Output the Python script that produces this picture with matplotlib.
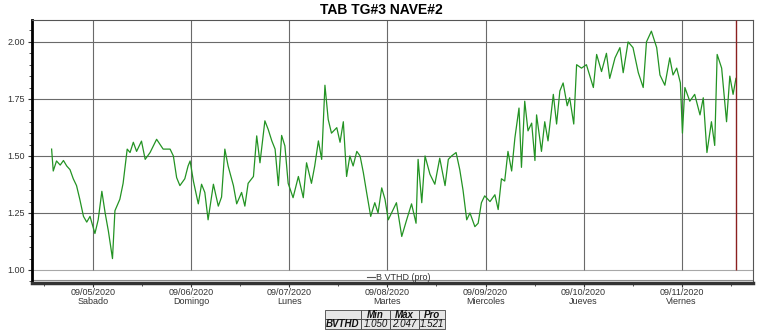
import matplotlib
matplotlib.use('Agg')
import matplotlib.pyplot as plt
from matplotlib.lines import Line2D
from matplotlib.patches import Rectangle
from matplotlib.ticker import MultipleLocator, FixedLocator

plt.rcParams['font.family'] = ['Liberation Sans', 'DejaVu Sans']

# ---------------- data ----------------
title = "TAB TG#3 NAVE#2"
series_name = "B VTHD (pro)"
day_dates = ["09/05/2020", "09/06/2020", "09/07/2020", "09/08/2020",
             "09/09/2020", "09/10/2020", "09/11/2020"]
day_names = ["Sabado", "Domingo", "Lunes", "Martes", "Miercoles", "Jueves", "Viernes"]
yticks = [1.00, 1.25, 1.50, 1.75, 2.00]

# hours relative to 09/05/2020 00:00
hours = [-10.2, -9.8, -9.0, -8.1, -7.3, -6.5, -5.7, -4.9, -4.1, -3.3, -2.4, -1.6, -0.8,
         0.4, 1.2, 2.1, 2.9, 3.7, 4.7, 5.3, 6.5, 7.3, 8.3, 9.0, 9.8, 10.6, 11.8, 12.7,
         13.9, 15.5, 17.1, 18.8, 19.6, 20.4, 21.2, 22.4, 23.2,
         23.7, 24.5, 25.7, 26.5, 27.3, 28.1, 29.4, 30.6, 31.4, 32.2, 33.0, 34.3, 35.1,
         36.3, 37.1, 37.9, 39.2, 40.0, 40.8, 42.0, 42.8, 43.7, 44.5, 45.3, 46.1, 46.9,
         47.7, 48.9, 50.2, 51.4, 52.2, 53.4, 54.2, 55.1, 55.9, 56.7, 57.5, 58.3, 59.6,
         60.4, 61.2, 62.0, 62.8, 63.6, 64.5, 65.3, 66.1, 66.9, 67.9, 68.9, 69.7, 70.6,
         71.4, 72.2, 73.0, 74.2, 75.5, 76.7, 77.9, 79.0, 79.5, 80.4, 81.2, 82.4, 83.6,
         84.8, 86.1, 86.9, 87.7, 88.8, 89.7, 90.5, 91.4, 92.2, 93.4, 94.2,
         95.0, 95.8, 97.1, 98.3, 99.1, 99.9, 100.7, 101.5, 102.4, 103.2, 104.2, 104.8,
         105.6, 106.4, 107.3, 108.1, 108.5, 109.7, 110.5, 111.3, 112.6, 113.4, 114.2,
         115.0, 116.0, 116.6, 117.6, 118.3, 119.5, 120.7, 122.4, 123.2, 124.4, 125.6,
         126.4, 127.7, 128.9, 129.7, 130.9, 132.1, 133.4, 134.6, 135.4, 136.6, 137.9,
         138.7, 139.9, 141.1, 141.9, 142.8, 143.7, 144.2, 144.8, 146.0, 147.2, 148.5,
         149.3, 150.2, 151.3, 152.1, 152.7, 153.8, 155.0, 155.8, 156.6, 157.3]
values = [1.53, 1.434, 1.478, 1.46, 1.48, 1.456, 1.44, 1.40, 1.37, 1.31, 1.235, 1.21, 1.235,
          1.16, 1.22, 1.345, 1.25, 1.17, 1.05, 1.26, 1.31, 1.38, 1.53, 1.515, 1.56, 1.52,
          1.565, 1.485, 1.515, 1.573, 1.53, 1.53, 1.50, 1.405, 1.37, 1.40, 1.456,
          1.478, 1.39, 1.29, 1.376, 1.34, 1.22, 1.376, 1.28, 1.32, 1.53, 1.456, 1.37, 1.29,
          1.34, 1.28, 1.38, 1.41, 1.588, 1.47, 1.654, 1.617, 1.566, 1.53, 1.37, 1.59, 1.544,
          1.38, 1.317, 1.41, 1.317, 1.47, 1.38, 1.456, 1.566, 1.485, 1.81, 1.66, 1.60, 1.624,
          1.56, 1.65, 1.41, 1.50, 1.456, 1.52, 1.50, 1.427, 1.34, 1.235, 1.295, 1.25, 1.36,
          1.31, 1.22, 1.25, 1.295, 1.147, 1.22, 1.29, 1.205, 1.485, 1.295, 1.50, 1.42, 1.376,
          1.49, 1.37, 1.485, 1.50, 1.515, 1.44, 1.35, 1.22, 1.25, 1.19, 1.205,
          1.295, 1.325, 1.30, 1.33, 1.265, 1.40, 1.39, 1.52, 1.434, 1.58, 1.71, 1.45,
          1.74, 1.61, 1.644, 1.48, 1.68, 1.52, 1.65, 1.566, 1.77, 1.64, 1.785,
          1.82, 1.72, 1.755, 1.64, 1.90, 1.885, 1.90, 1.80, 1.945, 1.87, 1.95,
          1.84, 1.93, 1.975, 1.865, 2.00, 1.975, 1.865, 1.80, 2.00, 2.047, 1.975,
          1.855, 1.81, 1.93, 1.855, 1.885, 1.82, 1.60, 1.80, 1.74, 1.77, 1.68,
          1.755, 1.515, 1.65, 1.546, 1.945, 1.885, 1.65, 1.85, 1.77, 1.84]
cursor_hour = 157.3

stat_headers = ["Min", "Máx", "Pro"]
stat_row = "BVTHD"
stat_values = ["1.050", "2.047", "1.521"]

# ---------------- figure ----------------
W, H = 763, 332
fig = plt.figure(figsize=(W / 100, H / 100), dpi=100)
fig.patch.set_facecolor('white')

def fx(px):
    return px / W

def fy(py):
    return 1 - py / H

ax_left, ax_right, ax_top, ax_bottom = 32, 752.7, 20, 283
ax = fig.add_axes([fx(ax_left), fy(ax_bottom), fx(ax_right - ax_left), (ax_bottom - ax_top) / H])

ymin, ymax = 0.943, 2.096
ax.set_ylim(ymin, ymax)
ax.set_xlim(-15.0, 161.4)

day_pos = [24 * i for i in range(len(day_dates))]

# grid
for yt in yticks:
    ax.axhline(yt, color='#a8a8a8' if yt == yticks[0] else '#6a6a6a', lw=0.8, zorder=1)
ax.vlines(day_pos, yticks[0], ymax, color='#6a6a6a', lw=0.8, zorder=1)
ax.axhline(0.958, color='#8a8a8a', lw=0.8, zorder=1)

# data
ax.plot(hours, values, color='#239323', lw=0.9, zorder=3)

# cursor
ax.vlines([cursor_hour], yticks[0], ymax, color='#8b2020', lw=1.0, zorder=4)

# spines
for s in ['top', 'right']:
    ax.spines[s].set_color('#555555')
    ax.spines[s].set_linewidth(0.8)
ax.spines['left'].set_color('black')
ax.spines['left'].set_linewidth(2.0)
ax.spines['bottom'].set_color('#333333')
ax.spines['bottom'].set_linewidth(2.5)

# ticks
ax.yaxis.set_major_locator(FixedLocator(yticks))
ax.set_yticklabels([f"{v:.2f}" for v in yticks])
ax.yaxis.set_minor_locator(MultipleLocator(0.05))
ax.xaxis.set_major_locator(FixedLocator(day_pos))
ax.set_xticklabels([f"{d}\n{n}" for d, n in zip(day_dates, day_names)])
ax.xaxis.set_minor_locator(FixedLocator([p + 12 for p in [-24] + day_pos]))
ax.tick_params(axis='both', which='major', labelsize=6.5, labelcolor='#333333',
               color='#333333', length=3, width=0.8, pad=2)
ax.tick_params(axis='both', which='minor', color='#333333', length=2, width=0.6)
ax.tick_params(axis='x', which='major', pad=0.5)
for lab in ax.get_xticklabels():
    lab.set_linespacing(1.05)

# title
fig.text(0.5, fy(10), title, ha='center', va='center', fontsize=10, fontweight='bold')

# legend
fig.add_artist(Line2D([fx(366.7), fx(375)], [fy(277), fy(277)], color='#555555', lw=0.8))
fig.text(fx(376), fy(277), series_name, ha='left', va='center', fontsize=6.5, color='#333333')

# stats table
col_x = [325, 361, 390, 419, 445]
row_y = [310.3, 319.3, 328.7]
cells = [["", *stat_headers], [stat_row, *stat_values]]
for r in range(2):
    for c in range(4):
        x0, x1 = col_x[c], col_x[c + 1]
        y0, y1 = row_y[r], row_y[r + 1]
        fig.add_artist(Rectangle((fx(x0), fy(y1)), fx(x1 - x0), (y1 - y0) / H,
                                 transform=fig.transFigure, facecolor='#e6e6e6',
                                 edgecolor='#444444', lw=0.6))
        txt = cells[r][c]
        if not txt:
            continue
        bold = (r == 0) or (c == 0)
        fig.text(fx((x0 + x1) / 2), fy((y0 + y1) / 2), txt, ha='center', va='center',
                 fontsize=7, fontstyle='italic', fontweight='bold' if bold else 'normal',
                 color='#111111')

fig.savefig('out.png', dpi=100)
